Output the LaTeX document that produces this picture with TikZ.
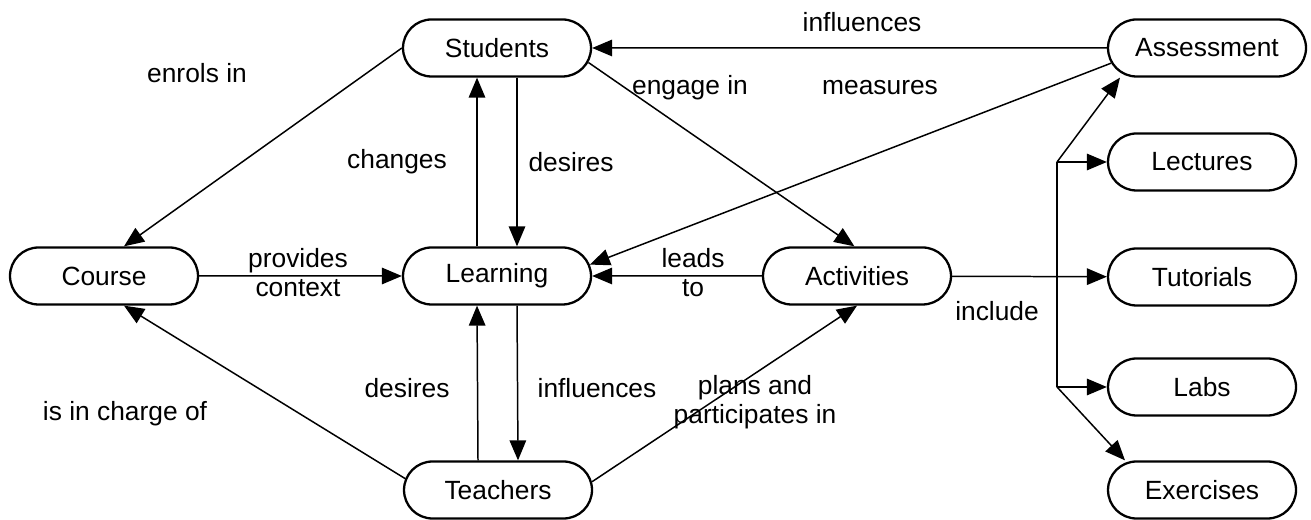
\documentclass[tikz,border=0pt]{standalone}
\usepackage{fontspec}
\setmainfont{Liberation Sans}
\usetikzlibrary{shapes.misc, arrows.meta, positioning}

\begin{document}
\begin{tikzpicture}[
  concept/.style={draw, rounded rectangle, line width=1.3pt, minimum width=3.9cm, minimum height=1.14cm, inner sep=2pt, font=\fontsize{15}{16.5}\selectfont},
  lbl/.style={align=center, inner sep=0pt, font=\fontsize{15}{16.5}\selectfont},
  link/.style={line width=0.85pt, -{Triangle[length=0.4cm, width=0.33cm]}},
  plain/.style={line width=0.85pt}
]
  \useasboundingbox (0,0) rectangle (26.22,10.4);

  % concepts
  \node[concept] (students) at (9.94, 9.44) {Students};
  \node[concept, minimum width=4.1cm] (assessment) at (24.14, 9.44) {Assessment};
  \node[concept] (course) at (2.08, 4.88) {Course};
  \node[concept] (learning) at (9.94, 4.88) {Learning};
  \node[concept] (activities) at (17.14, 4.88) {Activities};
  \node[concept] (teachers) at (9.96, 0.6) {Teachers};
  \node[concept] (lectures) at (24.04, 7.16) {Lectures};
  \node[concept] (tutorials) at (24.04, 4.86) {Tutorials};
  \node[concept] (labs) at (24.04, 2.66) {Labs};
  \node[concept] (exercises) at (24.04, 0.6) {Exercises};

  % links between concepts
  \draw[link] (assessment) -- (students);
  \draw[link] (students.west) -- ([xshift=0.4cm]course.north);
  \draw[link] ([xshift=-0.4cm]learning.north) -- ([xshift=-0.4cm]students.south);
  \draw[link] ([xshift=0.4cm]students.south) -- ([xshift=0.4cm]learning.north);
  \draw[link] (students.351) -- (activities.95);
  \draw[link] (assessment.189) -- (learning.7);
  \draw[link] (course) -- (learning);
  \draw[link] (activities) -- (learning);
  \draw[link] ([xshift=0.4cm]learning.south) -- ([xshift=0.4cm]teachers.north);
  \draw[link] ([xshift=-0.4cm]teachers.north) -- ([xshift=-0.4cm]learning.south);
  \draw[link] (teachers.173) -- ([xshift=0.4cm]course.south);
  \draw[link] (teachers.5) -- (activities.south);

  % "include" fan
  \coordinate (fanTop) at (21.14, 7.16);
  \coordinate (fanBot) at (21.14, 2.66);
  \draw[link] (activities) -- (tutorials);
  \draw[plain] (fanTop) -- (fanBot);
  \draw[link] (fanTop) -- (lectures);
  \draw[link] (fanBot) -- (labs);
  \draw[link] (fanTop) -- ([xshift=-1.74cm]assessment.south);
  \draw[link] (fanBot) -- ([xshift=-1.54cm]exercises.north);

  % link labels
  \node[lbl] (lInfluA) at (17.24, 9.96) {influences};
  \node[lbl] (lEnrols) at (3.94, 8.94) {enrols in};
  \node[lbl] (lEngage) at (13.8, 8.64) {engage in};
  \node[lbl] (lMeasures) at (17.6, 8.64) {measures};
  \node[lbl] (lChanges) at (7.94, 7.16) {changes};
  \node[lbl] (lDesiresA) at (11.42, 7.16) {desires};
  \node[lbl] (lProvides) at (5.96, 4.95) {provides\\context};
  \node[lbl] (lLeads) at (13.86, 4.95) {leads\\to};
  \node[lbl] (lInclude) at (19.94, 4.18) {include};
  \node[lbl] (lDesiresB) at (8.14, 2.64) {desires};
  \node[lbl] (lInfluB) at (11.94, 2.64) {influences};
  \node[lbl] (lCharge) at (2.5, 2.12) {is in charge of};
  \node[lbl] (lPlans) at (15.1, 2.36) {plans and\\participates in};
\end{tikzpicture}
\end{document}
